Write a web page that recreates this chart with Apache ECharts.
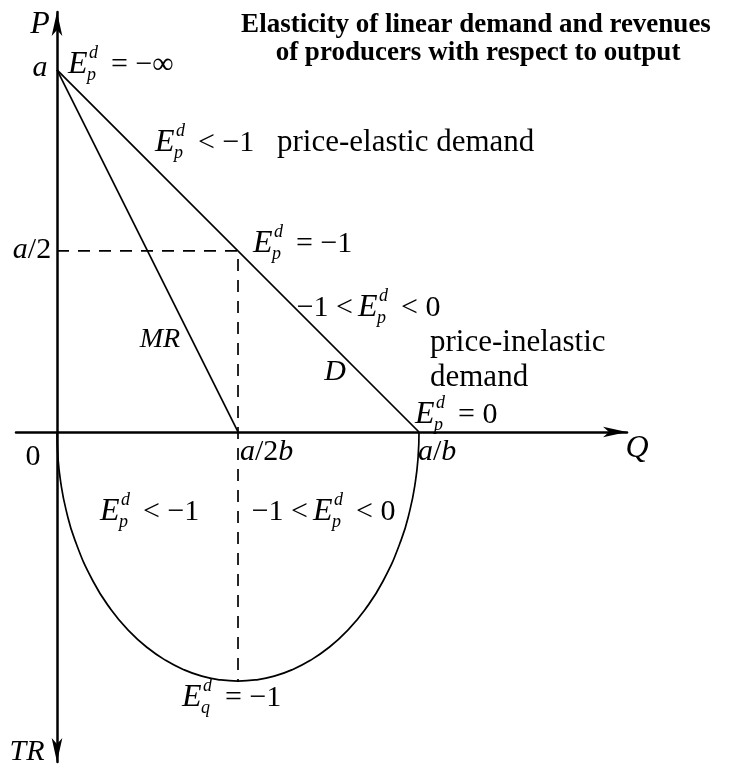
<!DOCTYPE html>
<html>
<head>
<meta charset="utf-8">
<script src="https://cdn.jsdelivr.net/npm/echarts@6/dist/echarts.min.js"></script>
<style>
  html, body { margin: 0; padding: 0; background: #fff; }
  #chart { width: 729px; height: 767px; }
</style>
</head>
<body>
<div id="chart"></div>
<script>
// linear demand P = a - bQ drawn with a = 2, b = 1, so a/2b = 1 and a/b = 2
const demandQ = [0, 2];
const demandP = [2, 0];
const mrQ = [0, 1];
const mrP = [2, 0];
const guideQ = [0, 1, 1];
const guideP = [1, 1, -1.376];
// total revenue, drawn downward below the Q axis
const trQ = [0, 0.005, 0.02, 0.05, 0.1, 0.2, 0.3, 0.4, 0.5, 0.6, 0.7, 0.8, 0.9, 1.0,
  1.1, 1.2, 1.3, 1.4, 1.5, 1.6, 1.7, 1.8, 1.9, 1.95, 1.98, 1.995, 2];
const trVal = [0, -0.137, -0.274, -0.430, -0.600, -0.826, -0.983, -1.101, -1.192, -1.261, -1.313, -1.349, -1.369, -1.376,
  -1.369, -1.349, -1.313, -1.261, -1.192, -1.101, -0.983, -0.826, -0.600, -0.430, -0.274, -0.137, 0];

const serif = '"Liberation Serif", "Times New Roman", serif';
const zip = (xs, ys) => xs.map((x, i) => [x, ys[i]]);

function txt(x, y, s, size, o) {
  o = o || {};
  return {
    type: 'text', x: x, y: y, z: 10,
    style: {
      text: s,
      font: (o.italic ? 'italic ' : '') + (o.bold ? 'bold ' : '') + size + 'px ' + serif,
      fill: '#000',
      textAlign: o.align || 'left', align: o.align || 'left',
      textVerticalAlign: 'middle', verticalAlign: 'middle',
      rich: o.rich
    }
  };
}

// E with superscript d and a subscript, optional text before and after
function elas(x, y, sub, pre, post) {
  const out = [
    txt(x, y, 'E', 32, { italic: true }),
    txt(x + 21, y - 12, 'd', 18, { italic: true }),
    txt(x + 19, y + 10, sub, 18, { italic: true })
  ];
  if (pre) out.push(txt(x - 5, y, pre, 30, { align: 'right' }));
  if (post) out.push(txt(x + 43, y, post, 30));
  return out;
}

const ital = { i: { fontStyle: 'italic', fontSize: 30, fontFamily: serif } };

const labels = [].concat(
  txt(476, 25, 'Elasticity of linear demand and revenues', 27, { bold: true, align: 'center' }),
  txt(478, 53, 'of producers with respect to output', 27, { bold: true, align: 'center' }),
  txt(40, 25, 'P', 32, { italic: true, align: 'center' }),
  txt(40, 68, 'a', 30, { italic: true, align: 'center' }),
  txt(32, 250, '{i|a}/2', 30, { align: 'center', rich: ital }),
  txt(33, 457, '0', 30, { align: 'center' }),
  txt(240, 452, '{i|a}/2{i|b}', 30, { rich: ital }),
  txt(418, 452, '{i|a}/{i|b}', 30, { rich: ital }),
  txt(637, 449, 'Q', 32, { italic: true, align: 'center' }),
  txt(27, 752, 'TR', 30, { italic: true, align: 'center' }),
  txt(160, 340, 'MR', 28, { italic: true, align: 'center' }),
  txt(335, 372, 'D', 30, { italic: true, align: 'center' }),
  txt(277, 143, 'price-elastic demand', 31),
  txt(430, 343, 'price-inelastic', 31),
  txt(430, 378, 'demand', 31),
  elas(68, 65, 'p', null, '= \u2212\u221e'),
  elas(155, 143, 'p', null, '< \u22121'),
  elas(253, 244, 'p', null, '= \u22121'),
  elas(358, 308, 'p', '\u22121 <', '< 0'),
  elas(415, 415, 'p', null, '= 0'),
  elas(100, 512, 'p', null, '< \u22121'),
  elas(313, 512, 'p', '\u22121 <', '< 0'),
  elas(182, 698, 'q', null, '= \u22121')
);

const axisCommon = {
  type: 'value',
  axisTick: { show: false },
  axisLabel: { show: false },
  splitLine: { show: false }
};

const myChart = echarts.init(document.getElementById('chart'));
myChart.setOption({
  backgroundColor: '#fff',
  animation: false,
  grid: { left: 16, right: 102, top: 12, bottom: 5 },
  xAxis: Object.assign({}, axisCommon, {
    min: -0.2265, max: 3.149,
    axisLine: { onZero: true, symbol: ['none', 'arrow'], symbolSize: [8, 24], lineStyle: { color: '#000', width: 2.5 } }
  }),
  yAxis: Object.assign({}, axisCommon, {
    min: -1.823, max: 2.32,
    axisLine: { onZero: true, symbol: ['arrow', 'arrow'], symbolSize: [8, 24], lineStyle: { color: '#000', width: 2.5 } }
  }),
  graphic: labels,
  series: [
    {
      name: 'D', type: 'line', data: zip(demandQ, demandP), symbol: 'none',
      lineStyle: { color: '#000', width: 1.7 }
    },
    {
      name: 'MR', type: 'line', data: zip(mrQ, mrP), symbol: 'none',
      lineStyle: { color: '#000', width: 1.7 }
    },
    {
      name: 'guide', type: 'line', data: zip(guideQ, guideP), symbol: 'none',
      lineStyle: { color: '#000', width: 1.7, type: [12, 9] }
    },
    {
      name: 'TR', type: 'line', data: zip(trQ, trVal), symbol: 'none', smooth: true,
      lineStyle: { color: '#000', width: 1.7 }
    }
  ]
});
</script>
</body>
</html>
